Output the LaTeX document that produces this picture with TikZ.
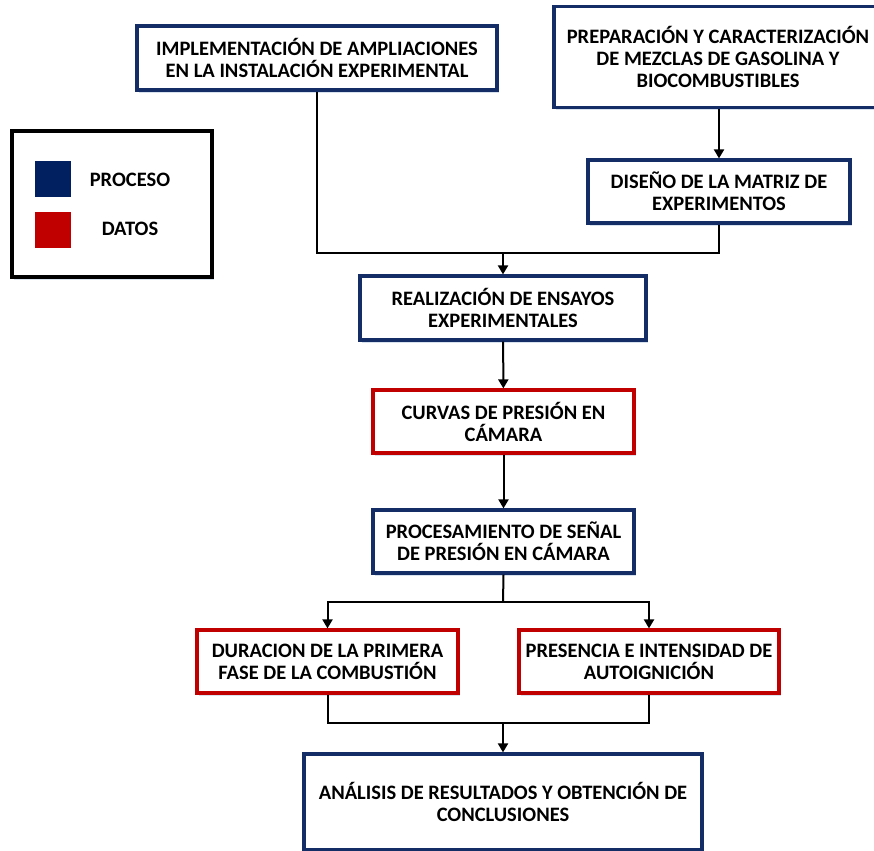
\documentclass[tikz,border=0pt]{standalone}
\usepackage{fontspec}
\setmainfont{Carlito}
\usetikzlibrary{shadows,arrows.meta}
\definecolor{pblue}{HTML}{152D66}
\definecolor{dred}{HTML}{C00000}
\definecolor{navy}{HTML}{002060}
\definecolor{shad}{HTML}{D8E2EF}
\begin{document}
\begin{tikzpicture}[x=1pt,y=-1pt,
  txt/.style={font=\fontsize{20.5}{22}\selectfont\bfseries, align=center},
  box/.style={txt, line width=3.2pt, fill=white, inner sep=0pt,
    drop shadow={shadow xshift=2pt, shadow yshift=-3pt, fill=shad, opacity=1}},
  proc/.style={box, draw=pblue},
  dato/.style={box, draw=dred},
  conn/.style={line width=2pt, black},
  arr/.style={conn, -{Triangle[length=9pt,width=10pt]}}]
\useasboundingbox (0,0) rectangle (874,850);

% legend
\node[draw=black, line width=3.5pt, fill=white, minimum width=200pt, minimum height=146pt,
  drop shadow={shadow xshift=2pt, shadow yshift=-3pt, fill=shad, opacity=1}] (leg) at (112,204) {};
\node[fill=navy, minimum size=36pt, inner sep=0pt] (sq1) at (53,179) {};
\node[fill=dred, minimum size=36pt, inner sep=0pt] (sq2) at (53,230) {};
\node[txt] (lt1) at (130,180) {PROCESO};
\node[txt] (lt2) at (130,229) {DATOS};

% boxes
\node[proc, minimum width=360pt, minimum height=64pt] (impl) at (317,58)
  {IMPLEMENTACIÓN DE AMPLIACIONES\\EN LA INSTALACIÓN EXPERIMENTAL};
\node[proc, minimum width=328pt, minimum height=101pt] (prep) at (718,57)
  {PREPARACIÓN Y CARACTERIZACIÓN\\DE MEZCLAS DE GASOLINA Y\\BIOCOMBUSTIBLES};
\node[proc, minimum width=262pt, minimum height=63pt] (dis) at (719,191.5)
  {DISEÑO DE LA MATRIZ DE\\EXPERIMENTOS};
\node[proc, minimum width=286pt, minimum height=64pt] (real) at (503,308)
  {REALIZACIÓN DE ENSAYOS\\EXPERIMENTALES};
\node[dato, minimum width=261pt, minimum height=63pt] (curv) at (503.5,421.5)
  {CURVAS DE PRESIÓN EN\\CÁMARA};
\node[proc, minimum width=261pt, minimum height=63pt] (procs) at (503.5,541.5)
  {PROCESAMIENTO DE SEÑAL\\DE PRESIÓN EN CÁMARA};
\node[dato, minimum width=261pt, minimum height=63pt] (dur) at (327.5,661.5)
  {DURACION DE LA PRIMERA\\FASE DE LA COMBUSTIÓN};
\node[dato, minimum width=260pt, minimum height=63pt] (pres) at (649,661.5)
  {PRESENCIA E INTENSIDAD DE\\AUTOIGNICIÓN};
\node[proc, minimum width=398pt, minimum height=96pt] (anal) at (503,802)
  {ANÁLISIS DE RESULTADOS Y OBTENCIÓN DE\\CONCLUSIONES};

% connectors
\coordinate (j1) at (503,253);
\coordinate (j2) at (503,602);
\coordinate (j3) at (503,723);
\draw[conn] (impl.south) |- (j1);
\draw[conn] (dis.south) |- (j1);
\draw[arr] (j1) -- (real.north);
\draw[arr] (dis.north |- prep.south) -- (dis.north);
\draw[arr] (real) -- (curv);
\draw[arr] (curv) -- (procs);
\draw[conn] (procs.south) -- (j2);
\draw[arr] (j2) -| (dur.north);
\draw[arr] (j2) -| (pres.north);
\draw[conn] (dur.south) |- (j3);
\draw[conn] (pres.south) |- (j3);
\draw[arr] (j3) -- (anal.north);
\end{tikzpicture}
\end{document}
